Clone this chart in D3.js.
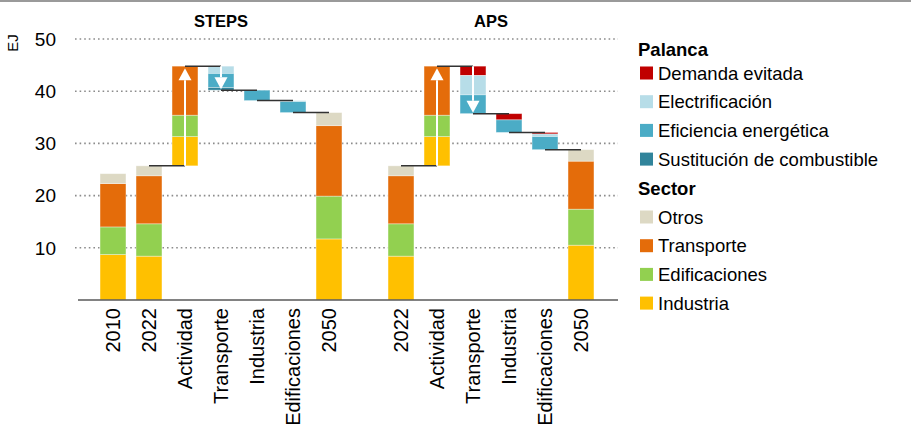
<!DOCTYPE html>
<html>
<head>
<meta charset="utf-8">
<script src="https://cdn.jsdelivr.net/npm/d3@7"></script>
<style>
  body { margin: 0; background: #fff; }
  text { font-family: "Liberation Sans", Arial, sans-serif; fill: #000; }
</style>
</head>
<body>
<div id="vis"></div>
<script>
// categories
var stepsCats = ["2010", "2022", "Actividad", "Transporte", "Industria", "Edificaciones", "2050"];
var apsCats   = ["2022", "Actividad", "Transporte", "Industria", "Edificaciones", "2050"];

// sectors (bottom -> top): Industria, Edificaciones, Transporte, Otros  (EJ)
var sectors    = ["Otros", "Transporte", "Edificaciones", "Industria"];
var steps2010  = [8.7, 5.3, 8.3, 1.9];
var steps2022  = [8.4, 6.2, 9.2, 1.9];
var steps2050  = [11.7, 8.2, 13.5, 2.5];
var aps2022    = [8.4, 6.2, 9.2, 1.9];
var aps2050    = [10.5, 6.9, 9.2, 2.2];
var actividad  = [5.6, 4.1, 9.4, 0];

// levers (top -> bottom): Demanda evitada, Electrificacion, Eficiencia, Sustitucion  (EJ)
var levers = ["Demanda evitada", "Electrificación", "Eficiencia energética", "Sustitución de combustible"];
var stepsTransporte    = [0, 1.4, 2.7, 0.5];
var stepsIndustria     = [0, 0, 2.0, 0];
var stepsEdificaciones = [0, 0.2, 2.1, 0];
var apsTransporte      = [1.8, 3.7, 3.6, 0];
var apsIndustria       = [1.2, 0, 2.4, 0];
var apsEdificaciones   = [0.3, 0.5, 2.5, 0];

var yTicks = [10, 20, 30, 40, 50];

var sectorColors = ["#FFC000", "#92D050", "#E46C0A", "#DDD9C4"]; // industria, edif, transp, otros
var leverColors  = ["#C00000", "#B7DDE8", "#4BACC6", "#31849B"];

var width = 911, height = 427;

var svg = d3.select("#vis")
  .append("svg")
  .attr("width", width)
  .attr("height", height);

// top rule
svg.append("line")
  .attr("x1", 0).attr("x2", width)
  .attr("y1", 1).attr("y2", 1)
  .style("stroke", "#9a9a9a")
  .style("stroke-width", 2);

var slots = stepsCats.map(function (c) { return "S|" + c; })
  .concat(["gap"])
  .concat(apsCats.map(function (c) { return "A|" + c; }));

var x = d3.scaleBand()
  .domain(slots)
  .range([77, 617])
  .paddingInner(0.28)
  .paddingOuter(0.64);

var y = d3.scaleLinear()
  .domain([0, 50])
  .range([300, 39]);

////////// grid + axes //////////

svg.append("g")
  .selectAll("line")
  .data(yTicks)
  .enter()
  .append("line")
  .attr("x1", 75).attr("x2", 618)
  .attr("y1", function (d) { return y(d); })
  .attr("y2", function (d) { return y(d); })
  .style("stroke", "#8c8c8c")
  .style("stroke-width", 1.6)
  .style("stroke-dasharray", "1.6,3");

svg.append("g")
  .selectAll("text")
  .data(yTicks)
  .enter()
  .append("text")
  .attr("x", 56)
  .attr("y", function (d) { return y(d); })
  .attr("dy", "0.36em")
  .attr("text-anchor", "end")
  .style("font-size", "19px")
  .text(function (d) { return d; });

svg.append("text")
  .attr("transform", "translate(18," + 43 + ") rotate(-90)")
  .attr("text-anchor", "middle")
  .style("font-size", "15px")
  .text("EJ");

////////// bars //////////

function buildSeq(prefix, cats, first, mid, last) {
  // first: list of total arrays, mid: [actividad, transporte, industria, edificaciones], last: total
  var seq = [];
  first.forEach(function (v, i) { seq.push({ key: prefix + cats[i], type: "total", vals: v }); });
  var n = first.length;
  seq.push({ key: prefix + cats[n], type: "up", vals: mid[0] });
  seq.push({ key: prefix + cats[n + 1], type: "down", vals: mid[1], arrow: true });
  seq.push({ key: prefix + cats[n + 2], type: "down", vals: mid[2] });
  seq.push({ key: prefix + cats[n + 3], type: "down", vals: mid[3] });
  seq.push({ key: prefix + cats[n + 4], type: "total", vals: last });
  return seq;
}

var stepsSeq = buildSeq("S|", stepsCats, [steps2010, steps2022],
  [actividad, stepsTransporte, stepsIndustria, stepsEdificaciones], steps2050);
var apsSeq = buildSeq("A|", apsCats, [aps2022],
  [actividad, apsTransporte, apsIndustria, apsEdificaciones], aps2050);

var barsG = svg.append("g");
var linkG = svg.append("g");
var arrowG = svg.append("g");

function drawSeq(seq) {
  var level = 0;
  var segs = [], links = [], arrows = [];
  seq.forEach(function (b, i) {
    if (b.type === "total") {
      var acc = 0;
      b.vals.forEach(function (v, k) {
        if (v > 0) segs.push({ key: b.key, y0: acc, y1: acc + v, color: sectorColors[k] });
        acc += v;
      });
      level = acc;
    } else if (b.type === "up") {
      var acc2 = level;
      b.vals.forEach(function (v, k) {
        if (v > 0) segs.push({ key: b.key, y0: acc2, y1: acc2 + v, color: sectorColors[k] });
        acc2 += v;
      });
      arrows.push({ key: b.key, from: level, to: acc2 });
      level = acc2;
    } else {
      var acc3 = level;
      b.vals.forEach(function (v, k) {
        if (v > 0) segs.push({ key: b.key, y0: acc3 - v, y1: acc3, color: leverColors[k] });
        acc3 -= v;
      });
      if (b.arrow) arrows.push({ key: b.key, from: level, to: acc3 });
      level = acc3;
    }
    var next = seq[i + 1];
    if (next && !(b.type === "total" && next.type === "total")) {
      links.push({ from: b.key, to: next.key, v: level });
    }
  });

  barsG.selectAll(null)
    .data(segs)
    .enter()
    .append("rect")
    .attr("x", function (d) { return x(d.key); })
    .attr("width", x.bandwidth())
    .attr("y", function (d) { return y(d.y1); })
    .attr("height", function (d) { return y(d.y0) - y(d.y1); })
    .style("fill", function (d) { return d.color; })
    .style("stroke", "#fff")
    .style("stroke-opacity", 0.45)
    .style("stroke-width", 0.8);

  linkG.selectAll(null)
    .data(links)
    .enter()
    .append("line")
    .attr("x1", function (d) { return x(d.from) + x.bandwidth() / 2; })
    .attr("x2", function (d) { return x(d.to) + x.bandwidth() / 2; })
    .attr("y1", function (d) { return y(d.v); })
    .attr("y2", function (d) { return y(d.v); })
    .style("stroke", "#333")
    .style("stroke-width", 1.5);

  arrows.forEach(function (a) {
    var cx = x(a.key) + x.bandwidth() / 2;
    var y0 = y(a.from), y1 = y(a.to);
    var dir = y1 < y0 ? 1 : -1; // 1 = pointing up
    var head = 12, hw = 6.5;
    var tip = dir === 1 ? y1 + 2 : y1 - 1;
    arrowG.append("line")
      .attr("x1", cx).attr("x2", cx)
      .attr("y1", y0).attr("y2", tip + dir * head)
      .style("stroke", "#fff")
      .style("stroke-width", 2);
    arrowG.append("path")
      .attr("d", "M" + cx + "," + tip +
        "L" + (cx - hw) + "," + (tip + dir * head) +
        "L" + (cx + hw) + "," + (tip + dir * head) + "Z")
      .style("fill", "#fff");
  });
}

drawSeq(stepsSeq);
drawSeq(apsSeq);

// baseline
svg.append("line")
  .attr("x1", 78).attr("x2", 618)
  .attr("y1", y(0)).attr("y2", y(0))
  .style("stroke", "#595959")
  .style("stroke-width", 1.3);

// category labels
svg.append("g")
  .selectAll("text")
  .data(slots.filter(function (s) { return s !== "gap"; }))
  .enter()
  .append("text")
  .attr("transform", function (d) {
    return "translate(" + (x(d) + x.bandwidth() / 2) + "," + 308 + ") rotate(-90)";
  })
  .attr("dy", "0.36em")
  .attr("text-anchor", "end")
  .style("font-size", "20px")
  .text(function (d) { return d.split("|")[1]; });

// panel titles
var stepsMid = (x("S|2010") + x("S|2050") + x.bandwidth()) / 2;
var apsMid   = (x("A|2022") + x("A|2050") + x.bandwidth()) / 2;
svg.append("text")
  .attr("x", stepsMid).attr("y", 27)
  .attr("text-anchor", "middle")
  .style("font-size", "16.5px")
  .style("font-weight", "bold")
  .text("STEPS");
svg.append("text")
  .attr("x", apsMid).attr("y", 27)
  .attr("text-anchor", "middle")
  .style("font-size", "16.5px")
  .style("font-weight", "bold")
  .text("APS");

////////// legend //////////

var legend = svg.append("g").attr("transform", "translate(638,0)");
var rowH = 28.7;

legend.append("text")
  .attr("x", 0).attr("y", 49).attr("dy", "0.36em")
  .style("font-size", "18.5px").style("font-weight", "bold")
  .text("Palanca");

var lev = legend.selectAll(".lev")
  .data(levers)
  .enter()
  .append("g")
  .attr("transform", function (d, i) { return "translate(0," + (73 + i * rowH) + ")"; });
lev.append("rect")
  .attr("x", 2).attr("y", -6.5).attr("width", 13).attr("height", 13)
  .style("fill", function (d, i) { return leverColors[i]; });
lev.append("text")
  .attr("x", 20).attr("dy", "0.36em")
  .style("font-size", "18.5px")
  .text(function (d) { return d; });

legend.append("text")
  .attr("x", 0).attr("y", 188).attr("dy", "0.36em")
  .style("font-size", "18.5px").style("font-weight", "bold")
  .text("Sector");

var sec = legend.selectAll(".sec")
  .data(sectors)
  .enter()
  .append("g")
  .attr("transform", function (d, i) { return "translate(0," + (217 + i * rowH) + ")"; });
sec.append("rect")
  .attr("x", 2).attr("y", -6.5).attr("width", 13).attr("height", 13)
  .style("fill", function (d, i) { return sectorColors[3 - i]; });
sec.append("text")
  .attr("x", 20).attr("dy", "0.36em")
  .style("font-size", "18.5px")
  .text(function (d) { return d; });
</script>
</body>
</html>
